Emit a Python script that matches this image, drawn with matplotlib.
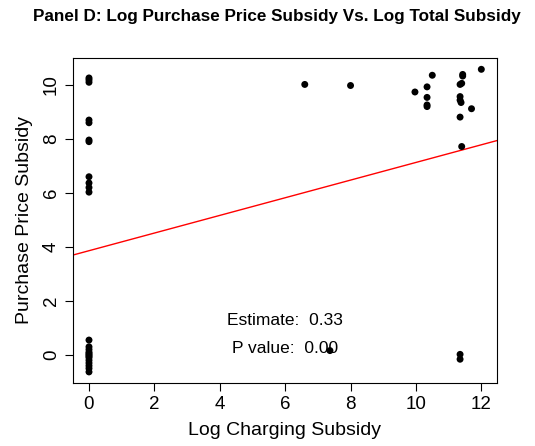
import numpy as np
import matplotlib
matplotlib.use("Agg")
import matplotlib.pyplot as plt

plt.rcParams['font.family'] = ['Liberation Sans', 'DejaVu Sans']

# charging subsidy (log) and purchase price subsidy (log)
charging = [0, 0, 0, 0, 0, 0, 0, 0, 0, 0,
            0, 0, 0, 0, 0, 0, 0, 0, 0, 0, 0, 0, 0, 0,
            6.6, 8.0, 9.97, 10.34, 10.34, 10.34, 10.34, 10.5,
            11.35, 11.4, 11.43, 11.43, 11.35, 11.35, 11.38, 11.7, 11.35, 11.4, 12.0,
            7.37, 11.35, 11.35]
purchase = [10.26, 10.19, 10.1, 8.7, 8.6, 7.96, 7.9, 6.6, 6.37, 6.2,
            6.03, 0.55, 0.3, 0.2, 0.1, 0.0, -0.1, -0.2, -0.3, -0.4, -0.5, -0.63, 0.05, -0.05,
            10.02, 9.98, 9.74, 9.93, 9.54, 9.26, 9.2, 10.36,
            10.02, 10.06, 10.39, 10.33, 9.57, 9.44, 9.35, 9.12, 8.81, 7.72, 10.58,
            0.16, 0.02, -0.16]

# fitted line
intercept = 3.86
slope = 0.327
estimate = 0.33
p_value = 0.00

fig = plt.figure(figsize=(5.35, 4.46), dpi=100)
ax = fig.add_axes([0.1364, 0.1413, 0.7926, 0.7287])

ax.scatter(charging, purchase, s=25, c='black', edgecolors='none', zorder=3)
ax.axline((0, intercept), slope=slope, color='red', lw=1)

ax.text(6, 1.27, "Estimate:  %.2f" % estimate, ha='center', va='center', fontsize=12.5)
ax.text(6, 0.22, "P value:  %.2f" % p_value, ha='center', va='center', fontsize=12.5)

ax.set_xlim(-0.49, 12.48)
ax.set_ylim(-1.04, 11.0)
ax.set_xticks([0, 2, 4, 6, 8, 10, 12])
ax.set_yticks([0, 2, 4, 6, 8, 10])
ax.tick_params(labelsize=13.5, length=6, direction='out')
plt.setp(ax.get_yticklabels(), rotation=90, va='center')

ax.set_xlabel("Log Charging Subsidy", fontsize=14, labelpad=6)
ax.set_ylabel("Purchase Price Subsidy", fontsize=14, labelpad=7)
fig.text(0.518, 0.963, "Panel D: Log Purchase Price Subsidy Vs. Log Total Subsidy",
         ha='center', va='center', fontsize=12.3, fontweight='bold')

fig.savefig("out.png", dpi=100)
